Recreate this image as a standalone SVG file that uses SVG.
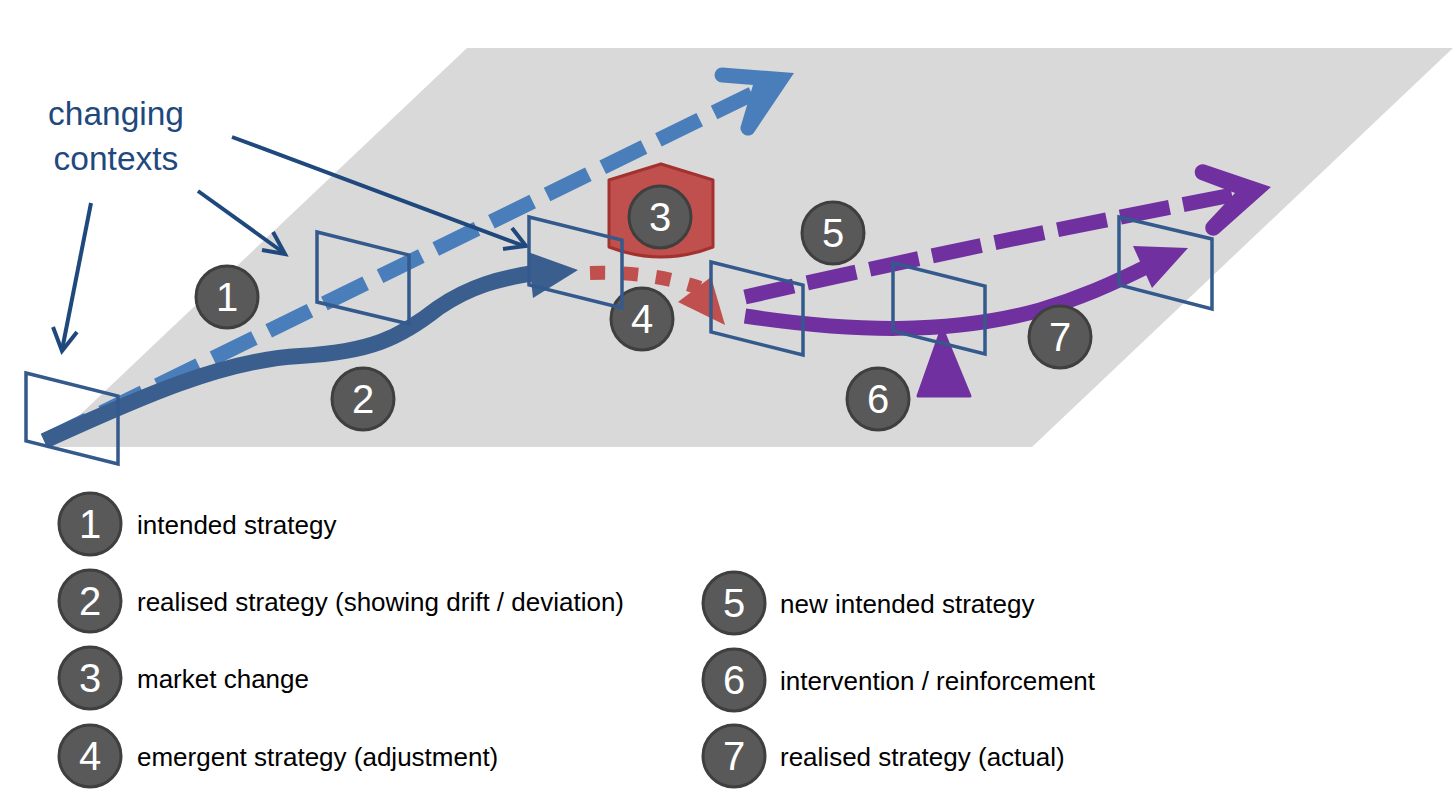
<svg xmlns="http://www.w3.org/2000/svg" width="1456" height="808" viewBox="0 0 1456 808">
<defs>
<style>
.plane{fill:#D9D9D9}
.ctx{fill:none;stroke:#34598C;stroke-width:3.5;stroke-linejoin:miter}
.badge circle{fill:#595959;stroke:#3F3F3F;stroke-width:3}
.badge text{fill:#FFFFFF;font-family:"Liberation Sans",Arial,sans-serif;font-size:40px;text-anchor:middle}
.leg{fill:#000000;font-family:"Liberation Sans",Arial,sans-serif;font-size:26px}
.title{fill:#1F497D;font-family:"Liberation Sans",Arial,sans-serif;font-size:33.5px;text-anchor:middle}
.navy{fill:none;stroke:#1F497D;stroke-width:4;stroke-linecap:butt;stroke-linejoin:miter}
.intended{fill:none;stroke:#4A7EBB;stroke-width:15}
.realised{fill:none;stroke:#3A5E8E;stroke-width:16;stroke-linecap:butt}
.purple{fill:none;stroke:#7030A0;stroke-width:15}
</style>
</defs>
<rect width="1456" height="808" fill="#FFFFFF"/>
<polygon class="plane" points="467,48 1453,48 1032,447 46,447"/>

<text class="title" x="116" y="125">changing</text>
<text class="title" x="116" y="170">contexts</text>

<g id="connectors">
  <!-- intended strategy (dashed light blue) -->
  <path class="intended" d="M46,440 L752,94" stroke-dasharray="46 16"/>
  <path d="M794,73 L722,67.5 A7.5,7.5 0 0 0 722,82.5 L753,85 L741.3,124.6 A7.5,7.5 0 0 0 754.7,131.4 Z" fill="#4A7EBB"/>
  <!-- realised strategy (solid dark blue) -->
  <path class="realised" d="M44,441 C130,402 220,360 300,356 C370,352 400,338 438,308 C470,286 500,278 540,272"/>
  <polygon points="528,252 578,270 533,298" fill="#3A5E8E"/>
  <!-- emergent strategy (red dotted) -->
  <path d="M590,273 Q650,271 700,288" fill="none" stroke="#C0504D" stroke-width="14" stroke-dasharray="15 18"/>
  <polygon points="678,302 711,277 725,325" fill="#C0504D"/>
  <!-- new intended strategy (purple dashed) -->
  <path class="purple" d="M745,297 Q950,250 1232,195" stroke-dasharray="50 14"/>
  <path d="M1271,187 L1204.7,164.5 A8,8 0 0 0 1199.3,179.5 L1235,193 L1207.5,222.2 A8,8 0 0 0 1218.5,233.8 Z" fill="#7030A0"/>
  <!-- realised strategy actual (purple solid) -->
  <path class="purple" d="M745,316 C850,332 950,335 1040,310 C1080,298 1110,285 1150,265"/>
  <polygon points="1133,246 1188,248 1152,288" fill="#7030A0"/>
  <!-- changing contexts pointers -->
  <line class="navy" x1="91" y1="203" x2="62" y2="350"/>
  <polyline class="navy" points="53,327 62,351 77,332"/>
  <line class="navy" x1="198" y1="191" x2="284" y2="253"/>
  <polyline class="navy" points="262,250 285,254 273,232"/>
  <line class="navy" x1="232" y1="137" x2="524" y2="246"/>
  <polyline class="navy" points="503,249 526,246 512,228"/>
</g>

<g id="market-change">
  <path d="M609,180 L661,164 L713,180 L713,247 Q661,267 609,247 Z" fill="#C0504D" stroke="#A3322F" stroke-width="3" stroke-linejoin="round"/>
</g>
<g id="intervention">
  <polygon points="942,328 918,396 970,396" fill="#7030A0" stroke="#7030A0" stroke-width="3" stroke-linejoin="round"/>
</g>

<g id="badge-1" class="badge"><circle cx="227" cy="297" r="31"/><text x="227" y="311">1</text></g>
<g id="badge-2" class="badge"><circle cx="363" cy="399" r="31"/><text x="363" y="413">2</text></g>
<g id="badge-3" class="badge"><circle cx="660" cy="217" r="31"/><text x="660" y="231">3</text></g>
<g id="badge-4" class="badge"><circle cx="642" cy="319" r="31"/><text x="642" y="333">4</text></g>
<g id="badge-5" class="badge"><circle cx="833" cy="233" r="31"/><text x="833" y="247">5</text></g>
<g id="badge-6" class="badge"><circle cx="878" cy="399" r="31"/><text x="878" y="413">6</text></g>
<g id="badge-7" class="badge"><circle cx="1060" cy="337" r="31"/><text x="1060" y="351">7</text></g>

<g id="context-a"><polygon class="ctx" points="26,373 118,396 118,464 26,441"/></g>
<g id="context-b"><polygon class="ctx" points="317,232 409,255 409,324 317,302"/></g>
<g id="context-c"><polygon class="ctx" points="529,217 622,240 622,308 529,285"/></g>
<g id="context-d"><polygon class="ctx" points="711,262 803,285 803,355 711,332"/></g>
<g id="context-e"><polygon class="ctx" points="893,263 985,286 985,354 893,331"/></g>
<g id="context-f"><polygon class="ctx" points="1119,217 1212,239 1212,309 1119,285"/></g>

<g id="legend">
  <g id="legend-1" class="badge"><circle cx="90" cy="524" r="31"/><text x="90" y="538">1</text></g>
  <text class="leg" x="137" y="534">intended strategy</text>
  <g id="legend-2" class="badge"><circle cx="90" cy="601" r="31"/><text x="90" y="615">2</text></g>
  <text class="leg" x="137" y="611">realised strategy (showing drift / deviation)</text>
  <g id="legend-3" class="badge"><circle cx="90" cy="678" r="31"/><text x="90" y="692">3</text></g>
  <text class="leg" x="137" y="688">market change</text>
  <g id="legend-4" class="badge"><circle cx="90" cy="756" r="31"/><text x="90" y="770">4</text></g>
  <text class="leg" x="137" y="766">emergent strategy (adjustment)</text>
  <g id="legend-5" class="badge"><circle cx="734" cy="603" r="31"/><text x="734" y="617">5</text></g>
  <text class="leg" x="780" y="613">new intended strategy</text>
  <g id="legend-6" class="badge"><circle cx="734" cy="680" r="31"/><text x="734" y="694">6</text></g>
  <text class="leg" x="780" y="690">intervention / reinforcement</text>
  <g id="legend-7" class="badge"><circle cx="734" cy="756" r="31"/><text x="734" y="770">7</text></g>
  <text class="leg" x="780" y="766">realised strategy (actual)</text>
</g>
</svg>
